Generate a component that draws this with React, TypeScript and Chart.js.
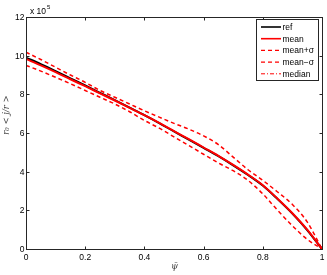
import React, { useEffect, useRef } from "react";
import { Chart, registerables } from "chart.js";

Chart.register(...registerables);

// normalized flux coordinate psi-bar
const psi = [0, 0.05, 0.1, 0.15, 0.2, 0.25, 0.3, 0.35, 0.4, 0.45, 0.5, 0.55, 0.6, 0.65, 0.7, 0.75, 0.8, 0.85, 0.9, 0.95, 1.0];
// values in units of 10^5
const refValues = [9.9, 9.56, 9.2, 8.83, 8.46, 8.08, 7.7, 7.31, 6.92, 6.51, 6.08, 5.66, 5.23, 4.8, 4.33, 3.83, 3.28, 2.58, 1.83, 0.98, 0];
const meanValues = [9.83, 9.5, 9.15, 8.78, 8.42, 8.05, 7.68, 7.3, 6.92, 6.52, 6.1, 5.68, 5.25, 4.82, 4.35, 3.85, 3.3, 2.6, 1.85, 1.0, 0];
const meanPlusSigma = [10.18, 9.8, 9.4, 9.0, 8.62, 8.2, 7.85, 7.5, 7.15, 6.82, 6.5, 6.2, 5.85, 5.4, 4.75, 4.1, 3.55, 2.95, 2.3, 1.4, 0];
const meanMinusSigma = [9.5, 9.2, 8.88, 8.55, 8.2, 7.85, 7.5, 7.1, 6.65, 6.25, 5.8, 5.35, 4.9, 4.45, 4.05, 3.55, 2.85, 2.0, 1.2, 0.5, 0];
const medianValues = [9.85, 9.51, 9.16, 8.79, 8.42, 8.05, 7.68, 7.3, 6.91, 6.51, 6.09, 5.67, 5.24, 4.81, 4.34, 3.84, 3.29, 2.6, 1.84, 0.99, 0];

const xTicks = [0, 0.2, 0.4, 0.6, 0.8, 1];
const xTickLabels = ["0", "0.2", "0.4", "0.6", "0.8", "1"];
const yTicks = [0, 2, 4, 6, 8, 10, 12];
const yTickLabels = ["0", "2", "4", "6", "8", "10", "12"];

const legendLabels = ["ref", "mean", "mean+σ", "mean−σ", "median"];

const FONT = "Liberation Sans, Arial, Helvetica, sans-serif";

const toPoints = (ys: number[]) => ys.map((y, i) => ({ x: psi[i], y }));

const axesPlugin = {
  id: "matlabAxes",
  afterDraw(chart: any) {
    const { ctx, chartArea } = chart;
    const xs = chart.scales.x;
    const ys = chart.scales.y;
    const L = Math.round(chartArea.left) + 0.5;
    const R = Math.round(chartArea.right) + 0.5;
    const T = Math.round(chartArea.top) + 0.5;
    const B = Math.round(chartArea.bottom) + 0.5;
    ctx.save();
    ctx.strokeStyle = "#262626";
    ctx.lineWidth = 1;
    ctx.setLineDash([]);
    ctx.strokeRect(L, T, R - L, B - T);
    const tl = 3;
    ctx.beginPath();
    xTicks.forEach((v) => {
      const px = Math.round(xs.getPixelForValue(v)) + 0.5;
      ctx.moveTo(px, B);
      ctx.lineTo(px, B - tl);
      ctx.moveTo(px, T);
      ctx.lineTo(px, T + tl);
    });
    yTicks.forEach((v) => {
      const py = Math.round(ys.getPixelForValue(v)) + 0.5;
      ctx.moveTo(L, py);
      ctx.lineTo(L + tl, py);
      ctx.moveTo(R, py);
      ctx.lineTo(R - tl, py);
    });
    ctx.stroke();

    ctx.fillStyle = "#000";
    ctx.font = `8.5px ${FONT}`;
    ctx.textAlign = "center";
    ctx.textBaseline = "top";
    xTicks.forEach((v, i) => {
      ctx.fillText(xTickLabels[i], xs.getPixelForValue(v), B + 3.5);
    });
    ctx.textAlign = "right";
    ctx.textBaseline = "middle";
    yTicks.forEach((v, i) => {
      ctx.fillText(yTickLabels[i], L - 2, ys.getPixelForValue(v) + 0.5);
    });

    // exponent
    ctx.textAlign = "left";
    ctx.textBaseline = "alphabetic";
    ctx.fillText("x 10", 30, 13.5);
    ctx.font = `6px ${FONT}`;
    ctx.fillText("5", 47, 8.5);

    // axis titles
    ctx.fillStyle = "#444";
    ctx.font = `italic 9px "DejaVu Serif", serif`;
    ctx.textAlign = "center";
    ctx.textBaseline = "middle";
    ctx.fillText("ψ̄", (L + R) / 2, B + 17);
    ctx.save();
    ctx.translate(6.5, 115);
    ctx.rotate(-Math.PI / 2);
    ctx.font = `italic 8.5px "DejaVu Serif", serif`;
    ctx.fillText("r₀ < j/r >", 0, 0);
    ctx.restore();

    // legend
    const bx = 256.5, by = 19.5, bw = 62, bh = 61;
    ctx.fillStyle = "#fff";
    ctx.fillRect(bx, by, bw, bh);
    ctx.strokeStyle = "#262626";
    ctx.lineWidth = 1;
    ctx.setLineDash([]);
    ctx.strokeRect(bx, by, bw, bh);
    const styles = [
      { c: "#000", w: 1.6, d: [] as number[] },
      { c: "#ff0000", w: 1.6, d: [] as number[] },
      { c: "#ff0000", w: 1.4, d: [4, 3] },
      { c: "#ff0000", w: 1.4, d: [4, 3] },
      { c: "#ff0000", w: 1, d: [4, 2, 1, 2] },
    ];
    legendLabels.forEach((lab, i) => {
      const y = 27 + i * 11.7;
      const s = styles[i];
      ctx.strokeStyle = s.c;
      ctx.lineWidth = s.w;
      ctx.setLineDash(s.d);
      ctx.beginPath();
      ctx.moveTo(261, y);
      ctx.lineTo(281, y);
      ctx.stroke();
      ctx.setLineDash([]);
      ctx.fillStyle = "#000";
      ctx.font = `8.5px ${FONT}`;
      ctx.textAlign = "left";
      ctx.textBaseline = "middle";
      ctx.fillText(lab, 282.5, y + 0.5);
    });
    ctx.restore();
  },
};

export default function App() {
  const ref = useRef<HTMLCanvasElement | null>(null);
  useEffect(() => {
    if (!ref.current) return;
    const chart = new Chart(ref.current, {
      type: "line",
      data: {
        datasets: [
          { label: "mean", data: toPoints(meanValues), borderColor: "#ff0000", borderWidth: 2, order: 0 },
          { label: "ref", data: toPoints(refValues), borderColor: "#000000", borderWidth: 2, order: 1 },
          { label: "median", data: toPoints(medianValues), borderColor: "#ff0000", borderWidth: 1, borderDash: [4, 2, 1, 2], order: 2 },
          { label: "mean+σ", data: toPoints(meanPlusSigma), borderColor: "#ff0000", borderWidth: 1.5, borderDash: [4, 3], order: 3 },
          { label: "mean−σ", data: toPoints(meanMinusSigma), borderColor: "#ff0000", borderWidth: 1.5, borderDash: [4, 3], order: 4 },
        ],
      },
      options: {
        animation: false,
        responsive: false,
        devicePixelRatio: 1,
        parsing: false as any,
        elements: { point: { radius: 0 }, line: { cubicInterpolationMode: "monotone", fill: false } },
        layout: { padding: { left: 26, right: 5, top: 17, bottom: 26 } },
        scales: {
          x: { type: "linear", min: 0, max: 1, display: false },
          y: { type: "linear", min: 0, max: 12, display: false },
        },
        plugins: { legend: { display: false }, tooltip: { enabled: false } },
      },
      plugins: [axesPlugin],
    });
    return () => chart.destroy();
  }, []);
  return (
    <div style={{ position: "fixed", left: 0, top: 0, width: 327, height: 275, background: "#fff" }}>
      <canvas ref={ref} width={327} height={275} style={{ width: 327, height: 275 }} />
    </div>
  );
}
